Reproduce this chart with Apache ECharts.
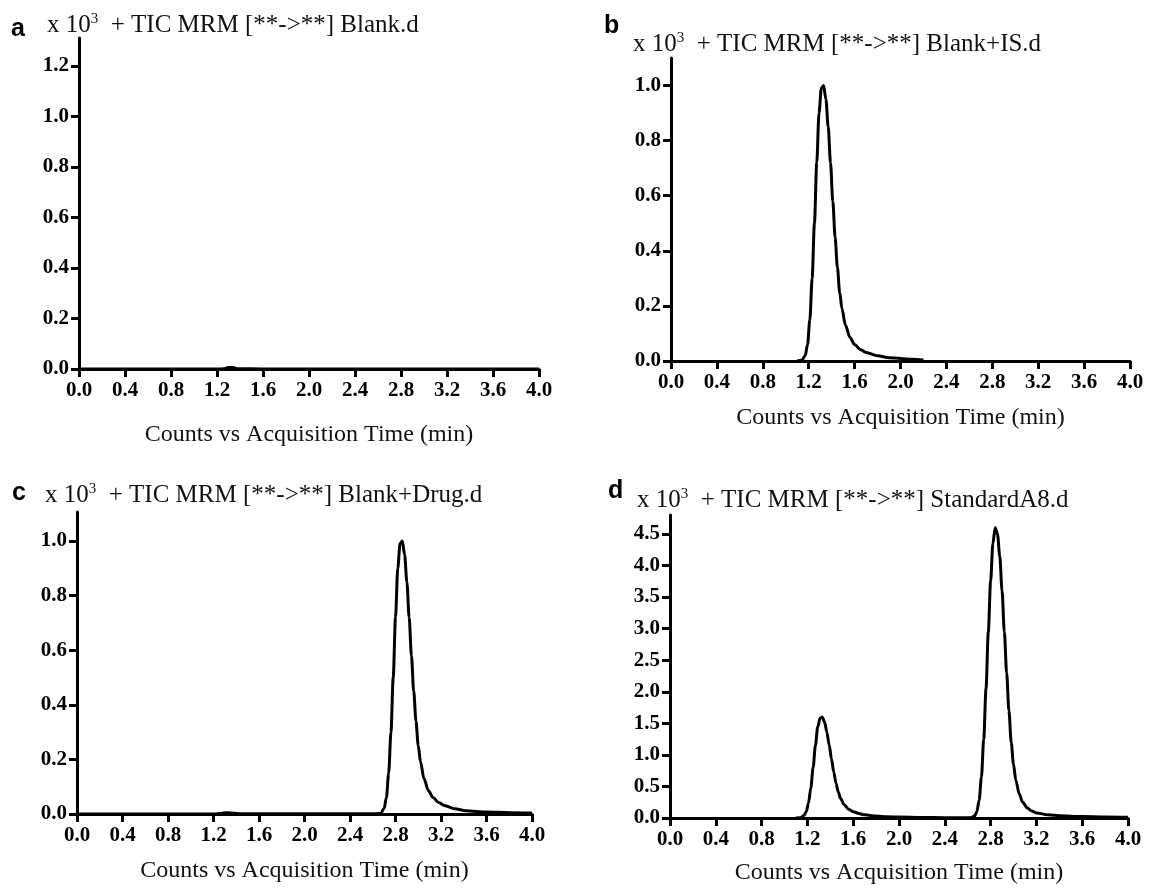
<!DOCTYPE html>
<html>
<head>
<meta charset="utf-8">
<script src="https://cdn.jsdelivr.net/npm/echarts@6/dist/echarts.min.js"></script>
<style>
  html, body { margin: 0; padding: 0; background: #fff; }
  #main { width: 1149px; height: 888px; }
</style>
</head>
<body>
<div id="main"></div>
<script>
// 数据：每个面板的时间 (min) 和计数 (x 10^3)
const timeA = [0.0, 0.4, 0.8, 1.2, 1.26, 1.3, 1.34, 1.38, 1.6, 2.0, 2.4, 2.8, 3.2, 3.6, 4.0];
const countsA = [0, 0, 0, 0, 0.001, 0.006, 0.006, 0.001, 0, 0, 0, 0, 0, 0, 0];

const timeB = [1.10, 1.14, 1.17, 1.19, 1.21, 1.23, 1.25, 1.27, 1.29, 1.31, 1.33, 1.35, 1.37, 1.39,
  1.41, 1.43, 1.45, 1.47, 1.49, 1.52, 1.56, 1.60, 1.65, 1.70, 1.80, 1.90, 2.00, 2.10, 2.20];
const countsB = [0, 0.003, 0.02, 0.06, 0.15, 0.30, 0.50, 0.72, 0.90, 0.99, 1.00, 0.95, 0.85, 0.72,
  0.58, 0.45, 0.34, 0.25, 0.19, 0.13, 0.085, 0.06, 0.042, 0.031, 0.019, 0.012, 0.009, 0.006, 0.004];

const timeC = [0.0, 1.2, 1.27, 1.31, 1.35, 1.42, 2.0, 2.4, 2.62, 2.67, 2.70, 2.72, 2.74, 2.76, 2.78,
  2.80, 2.82, 2.84, 2.86, 2.88, 2.90, 2.92, 2.94, 2.96, 2.98, 3.00, 3.02, 3.05, 3.09, 3.13, 3.18,
  3.23, 3.32, 3.42, 3.60, 3.80, 4.00];
const countsC = [0, 0, 0.002, 0.005, 0.004, 0.001, 0.001, 0.001, 0.001, 0.003, 0.02, 0.06, 0.15, 0.30, 0.50,
  0.72, 0.90, 0.99, 1.00, 0.95, 0.85, 0.72, 0.58, 0.45, 0.34, 0.25, 0.19, 0.13, 0.085, 0.06, 0.042,
  0.031, 0.019, 0.012, 0.007, 0.005, 0.004];

const timeD = [1.10, 1.14, 1.17, 1.19, 1.21, 1.23, 1.25, 1.27, 1.29, 1.31, 1.33, 1.35, 1.37, 1.39,
  1.41, 1.43, 1.45, 1.47, 1.49, 1.52, 1.56, 1.60, 1.65, 1.70, 1.80, 1.90, 2.00, 2.20, 2.40, 2.60,
  2.63, 2.66, 2.68, 2.70, 2.72, 2.74, 2.76, 2.78, 2.80, 2.82, 2.84, 2.86, 2.88, 2.90, 2.92, 2.94,
  2.96, 2.98, 3.00, 3.02, 3.05, 3.08, 3.12, 3.16, 3.20, 3.30, 3.40, 3.60, 3.80, 4.00];
const countsD = [0, 0.005, 0.04, 0.10, 0.24, 0.48, 0.80, 1.15, 1.44, 1.58, 1.60, 1.52, 1.36, 1.16,
  0.94, 0.73, 0.55, 0.41, 0.31, 0.21, 0.14, 0.10, 0.07, 0.05, 0.03, 0.02, 0.014, 0.008, 0.005, 0.005,
  0.006, 0.03, 0.10, 0.28, 0.65, 1.25, 2.05, 2.95, 3.75, 4.35, 4.60, 4.50, 4.15, 3.60, 2.95, 2.30,
  1.70, 1.20, 0.85, 0.60, 0.38, 0.25, 0.16, 0.11, 0.08, 0.05, 0.035, 0.022, 0.016, 0.012];

// 刻度
const xTicks = [0.0, 0.4, 0.8, 1.2, 1.6, 2.0, 2.4, 2.8, 3.2, 3.6, 4.0];
const yTicksA = [0.0, 0.2, 0.4, 0.6, 0.8, 1.0, 1.2];
const yTicksB = [0.0, 0.2, 0.4, 0.6, 0.8, 1.0];
const yTicksC = [0.0, 0.2, 0.4, 0.6, 0.8, 1.0];
const yTicksD = [0.0, 0.5, 1.0, 1.5, 2.0, 2.5, 3.0, 3.5, 4.0, 4.5];

const panelLetters = ["a", "b", "c", "d"];
const sampleNames = ["Blank.d", "Blank+IS.d", "Blank+Drug.d", "StandardA8.d"];
const xName = "Counts vs Acquisition Time (min)";

const serif = "'Liberation Serif', 'DejaVu Serif', serif";

function pairs(t, c) {
  return t.map((x, i) => [x, c[i]]);
}

// 每个面板的位置 (px)
const grids = [
  { left: 79, right: 610, top: 38, bottom: 519 },
  { left: 671, right: 19, top: 58, bottom: 527 },
  { left: 77, right: 617, top: 512, bottom: 74 },
  { left: 670, right: 21, top: 515, bottom: 70 }
];
const yMax = [1.31, 1.10, 1.106, 4.80];
const yTicks = [yTicksA, yTicksB, yTicksC, yTicksD];
const nameGaps = [54, 45, 45, 43];
const seriesData = [pairs(timeA, countsA), pairs(timeB, countsB), pairs(timeC, countsC), pairs(timeD, countsD)];

const letterPos = [[11, 17], [604, 14], [12, 481], [608, 479]];
const headPos = [[47, 12], [633, 31], [45, 482], [637, 487]];

let chart = echarts.init(document.getElementById("main"), null, { renderer: "canvas" });

let axisLine = { show: true, onZero: false, lineStyle: { color: "#000", width: 3 } };
let axisTick = { show: true, inside: false, length: 8, lineStyle: { color: "#000", width: 3 } };
let labelStyle = { color: "#000", fontFamily: serif, fontWeight: "bold", fontSize: 21 };

let option = {
  animation: false,
  backgroundColor: "#fff",
  title: [],
  grid: grids,
  xAxis: [],
  yAxis: [],
  series: []
};

for (let i = 0; i < 4; i++) {
  option.title.push({
    text: panelLetters[i],
    left: letterPos[i][0],
    top: letterPos[i][1],
    padding: 0,
    textStyle: { fontFamily: "'Liberation Sans', Arial, sans-serif", fontWeight: "bold", fontSize: 25, color: "#000" }
  });
  option.title.push({
    text: "x 10{sup|3}  + TIC MRM [**->**] " + sampleNames[i],
    left: headPos[i][0],
    top: headPos[i][1],
    padding: 0,
    textStyle: {
      fontFamily: serif,
      fontWeight: "normal",
      fontSize: 25,
      color: "#111",
      lineHeight: 27,
      rich: {
        sup: { fontFamily: serif, fontSize: 15, color: "#111", verticalAlign: "top", lineHeight: 27 }
      }
    }
  });
  option.xAxis.push({
    type: "value",
    gridIndex: i,
    min: 0,
    max: 4,
    interval: 0.4,
    name: xName,
    nameLocation: "middle",
    nameGap: nameGaps[i],
    nameTextStyle: { fontFamily: serif, fontSize: 24, color: "#111" },
    axisLine: axisLine,
    axisTick: axisTick,
    splitLine: { show: false },
    axisLabel: Object.assign({ margin: 11, formatter: v => v.toFixed(1), customValues: xTicks }, labelStyle)
  });
  option.yAxis.push({
    type: "value",
    gridIndex: i,
    min: 0,
    max: yMax[i],
    axisLine: axisLine,
    axisTick: Object.assign({ customValues: yTicks[i] }, axisTick),
    splitLine: { show: false },
    axisLabel: Object.assign({ margin: 10, formatter: v => v.toFixed(1), customValues: yTicks[i] }, labelStyle)
  });
  option.series.push({
    type: "line",
    xAxisIndex: i,
    yAxisIndex: i,
    data: seriesData[i],
    showSymbol: false,
    smooth: 0.3,
    smoothMonotone: "x",
    lineStyle: { color: "#000", width: 3 },
    z: 1
  });
}

chart.setOption(option);
</script>
</body>
</html>
